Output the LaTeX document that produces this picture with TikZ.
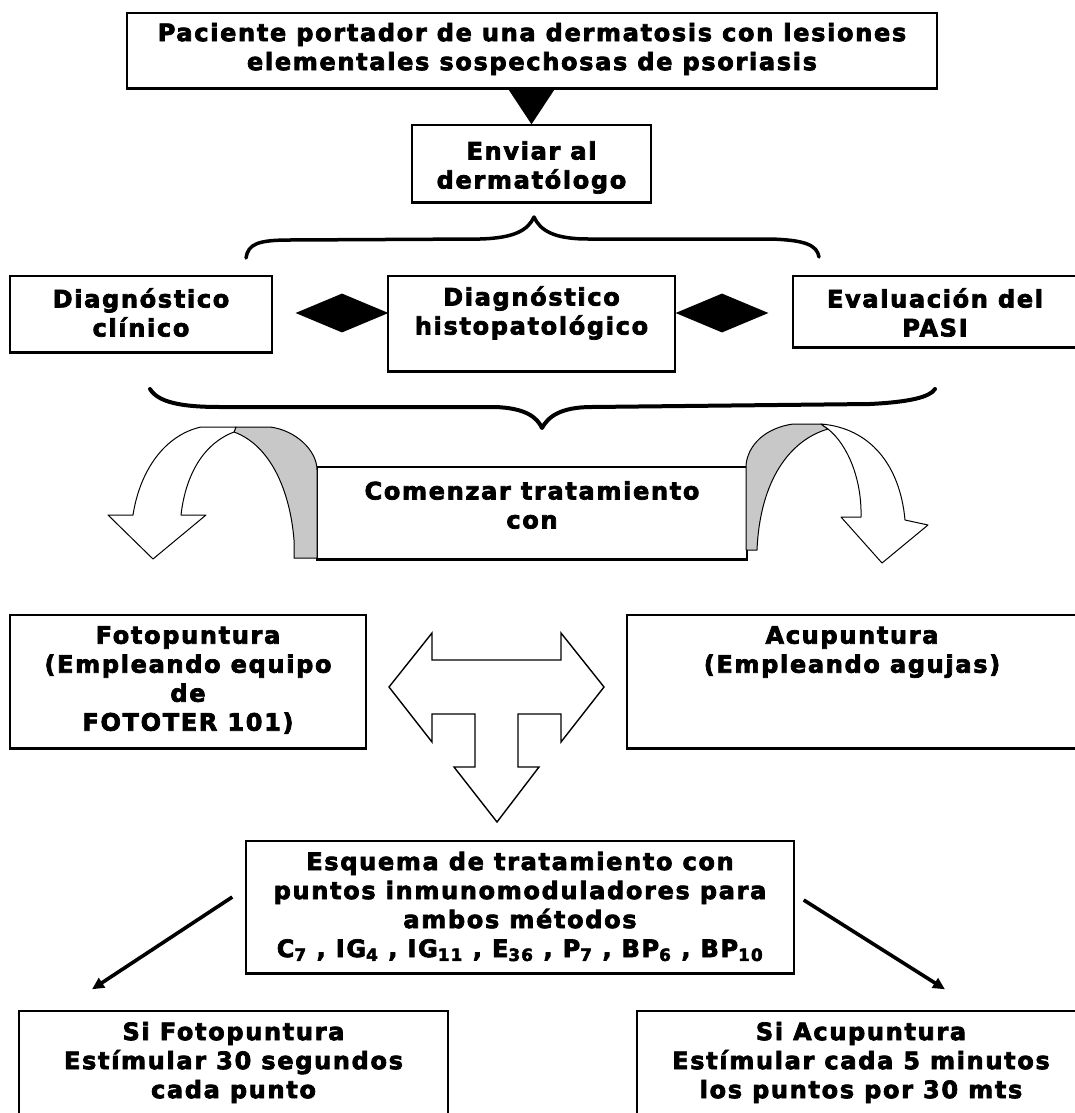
\documentclass[tikz,border=0pt]{standalone}
\usepackage{fontspec}
\setmainfont{DejaVu Sans}[LetterSpace=7,BoldFeatures={FakeBold=3}]
\usetikzlibrary{shapes.geometric,arrows.meta,calc}
\definecolor{band}{RGB}{200,200,200}
\begin{document}
\begin{tikzpicture}[x=1pt,y=-1pt,
  box/.style={draw=black,line width=1.4pt,fill=white,inner sep=0pt},
  txt/.style={font=\fontsize{24}{29}\selectfont\bfseries,align=center,inner sep=0pt},
  brace/.style={line width=3.5pt,line cap=round,line join=round},
  curve/.style={draw=black,line width=1pt,line join=round},
  dia/.style={diamond,fill=black,inner sep=0pt,minimum width=93pt,minimum height=39pt},
  link/.style={line width=3.6pt,-{Triangle[length=12pt,width=11pt]}},
  wide/.style={line width=1.4pt,fill=white,line join=miter}
]
\useasboundingbox (0,0) rectangle (1075,1113);
\clip (0,0) rectangle (1075,1113);
\fill[white] (0,0) rectangle (1075,1113);

% boxes
\node[box,minimum width=810pt,minimum height=75pt] (top) at (532,50.5) {};
\node[box,minimum width=239pt,minimum height=77pt] (env) at (531.5,163.5) {};
\node[box,minimum width=262pt,minimum height=76pt] (dc) at (141,314) {};
\node[box,minimum width=287pt,minimum height=95pt] (dh) at (531.5,323.5) {};
\node[box,minimum width=284pt,minimum height=71pt] (pasi) at (935,311.5) {};
\node[box,minimum width=430pt,minimum height=92pt] (com) at (532,513) {};
\node[box,minimum width=356pt,minimum height=133pt] (foto) at (188,681.5) {};
\node[box,minimum width=450pt,minimum height=133pt] (acu) at (852,681.5) {};
\node[box,minimum width=548pt,minimum height=132pt] (esq) at (520,907) {};
\node[box,minimum width=429pt,minimum height=114pt] (sif) at (233.5,1068) {};
\node[box,minimum width=448pt,minimum height=114pt] (sia) at (861,1068) {};
\foreach \n in {top,env,dc,dh,pasi,com,foto,acu,esq}
  \draw[line width=2.4pt] (\n.south west) -- (\n.south east);

% texts
\node[txt] (topt) at (532,49) {Paciente portador de una dermatosis con lesiones\\elementales sospechosas de psoriasis};
\node[txt] (envt) at (531.5,167.5) {Enviar al\\dermatólogo};
\node[txt] (dct) at (141,312.5) {Diagnóstico\\clínico};
\node[txt] (dht) at (531.5,313) {Diagnóstico\\histopatológico};
\node[txt] (pasit) at (935,312.5) {Evaluación del\\PASI};
\node[txt] (comt) at (532,505) {Comenzar tratamiento\\con};
\node[txt] (fotot) at (188,680) {Fotopuntura\\(Empleando equipo\\de\\FOTOTER 101)};
\node[txt] (acut) at (852,652) {Acupuntura\\(Empleando agujas)};
\node[txt] (esqt) at (520,906.5) {Esquema de tratamiento con\\puntos inmunomoduladores para\\ambos métodos\\C\textsubscript{7} , IG\textsubscript{4} , IG\textsubscript{11} , E\textsubscript{36} , P\textsubscript{7} , BP\textsubscript{6} , BP\textsubscript{10}};
\node[txt] (sift) at (233.5,1062.5) {Si Fotopuntura\\Estímular 30 segundos\\cada punto};
\node[txt] (siat) at (861,1062.5) {Si Acupuntura\\Estímular cada 5 minutos\\los puntos por 30 mts};

% black triangle top -> env
\fill ($(top.south)+(-24,0)$) -- ($(top.south)+(23,0)$) -- (env.north) -- cycle;

% diamonds
\node[dia] (d1) at (342,313) {};
\node[dia] (d2) at (722,313) {};

% braces
\draw[brace] (246,258) .. controls (248,244) and (258,240) .. (290,240) -- (480,239)
  .. controls (515,238) and (528,230) .. (534,217)
  .. controls (540,230) and (553,239) .. (588,239) -- (770,239)
  .. controls (805,240) and (817,245) .. (819,257);
\draw[brace,line width=4pt] (150,389) .. controls (158,402) and (180,407) .. (220,407) -- (495,407)
  .. controls (525,408) and (537,417) .. (542,428)
  .. controls (548,417) and (560,407) .. (592,407) -- (870,404)
  .. controls (910,402) and (930,397) .. (935,389);

% left curved arrow
\filldraw[curve,fill=band] (234,432) -- (236,427) -- (270,427) .. controls (295,430) and (317,450) .. (317,470)
  -- (317,558) -- (294,558) -- (294,540) .. controls (290,490) and (270,445) .. (234,432) -- cycle;
\filldraw[curve,fill=white] (236,427) -- (201,427) .. controls (165,435) and (140,470) .. (133,515)
  -- (108,515) -- (153,559) -- (206,515) -- (181,515) .. controls (185,480) and (200,445) .. (234,432) -- cycle;

% right curved arrow
\filldraw[curve,fill=band] (746,550) -- (746,465) .. controls (748,445) and (765,428) .. (793,424)
  -- (821,424) -- (828,429) .. controls (790,440) and (760,480) .. (757,550) -- cycle;
\filldraw[curve,fill=white] (821,424) .. controls (870,428) and (900,465) .. (905,520)
  -- (928,525) -- (882,563) -- (841,517) -- (861,517) .. controls (862,480) and (848,445) .. (828,429) -- cycle;

% three-way block arrow
\filldraw[wide] (389,687) -- (432,633) -- (432,660) -- (561,660) -- (561,633) -- (604,687)
  -- (561,742) -- (561,714) -- (518,714) -- (518,767) -- (539,767) -- (497,822) -- (454,767)
  -- (475,767) -- (475,714) -- (432,714) -- (432,742) -- cycle;

% links
\draw[link] ($(esq.west)+(-13,-10)$) -- ($(sif.north)+(-141.5,-21)$);
\draw[link] ($(esq.east)+(9,-7)$) -- ($(sia.north)+(84,-21)$);
\end{tikzpicture}
\end{document}
